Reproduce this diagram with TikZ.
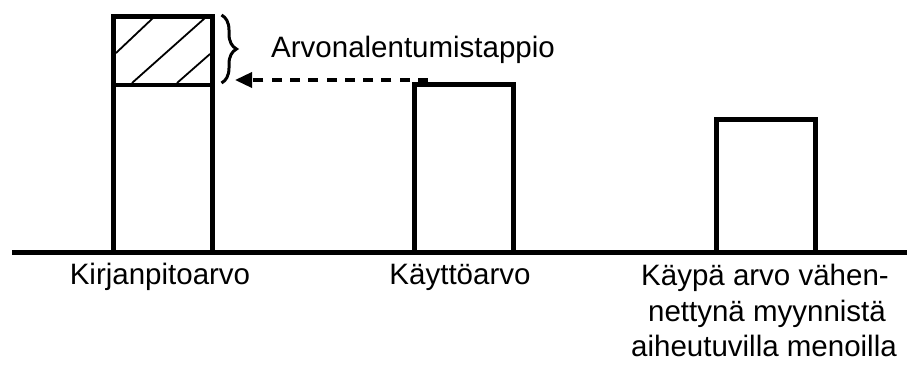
\documentclass[tikz,border=0pt]{standalone}
\usepackage{fontspec}
\setmainfont{Liberation Sans}
\usetikzlibrary{arrows.meta,decorations.pathreplacing}

\begin{document}
\begin{tikzpicture}[x=1pt,y=-1pt,
  bar/.style={draw=black,line width=5pt,fill=none,outer sep=0pt,inner sep=0pt,
    anchor=south west,minimum width=99pt},
  axis/.style={line width=5pt},
  hatch/.style={line width=1.8pt},
  label/.style={inner sep=0pt,anchor=base,font=\fontsize{29.5}{35}\selectfont},
  lossarrow/.style={line width=3.5pt,dash pattern=on 10pt off 8.3pt,
    -{Triangle[length=17pt,width=15pt]}},
  bracestyle/.style={line width=3pt,decorate,
    decoration={brace,amplitude=15pt}}
]
\useasboundingbox (0,0) rectangle (907,372);

% ground line
\coordinate (gl) at (12,252);
\coordinate (gr) at (907,252);
\draw[axis] (gl) -- (gr);

% bars
\node[bar,minimum height=236pt] (b1) at (113,252) {};
\node[bar,minimum height=168pt] (b2) at (414,252) {};
\node[bar,minimum height=133pt] (b3) at (716,252) {};

% impairment section of the first bar
\coordinate (dl) at (113,85);
\coordinate (dr) at (212,85);
\draw[line width=4.5pt] (dl) -- (dr);
\draw[hatch] (116,53) -- (153,18);
\draw[hatch] (132,83) -- (205,18);
\draw[hatch] (177,83) -- (210,54);

% brace over the impaired part
\coordinate (brtop) at (221.5,15);
\coordinate (brbot) at (221.5,83);
\draw[bracestyle] (brtop) -- (brbot);

% dashed arrow from the value in use to the book value
\coordinate (arrstart) at (428,80);
\coordinate (arrend) at (235,80);
\draw[lossarrow] (arrstart) -- (arrend);

% labels
\node[label,anchor=base west] (loss) at (271,57) {Arvonalentumistappio};
\node[label] (l1) at (160,284) {Kirjanpitoarvo};
\node[label] (l2) at (460,284) {Käyttöarvo};
\node[label] (l3a) at (765,285) {Käypä arvo vähen-};
\node[label] (l3b) at (767,321) {nettynä myynnistä};
\node[label] (l3c) at (764,356) {aiheutuvilla menoilla};
\end{tikzpicture}
\end{document}
